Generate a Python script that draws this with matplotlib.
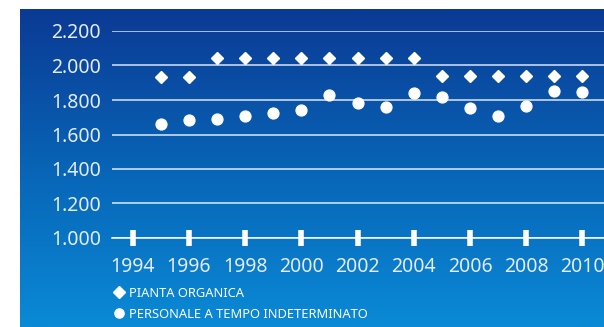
import numpy as np
import matplotlib
matplotlib.use("Agg")
import matplotlib.pyplot as plt
from matplotlib.colors import LinearSegmentedColormap
from matplotlib.ticker import FuncFormatter

plt.rcParams["font.family"] = ["Noto Sans", "DejaVu Sans"]

years = [1995, 1996, 1997, 1998, 1999, 2000, 2001, 2002,
         2003, 2004, 2005, 2006, 2007, 2008, 2009, 2010]
pianta_organica = [1933, 1933, 2045, 2045, 2045, 2045, 2045, 2045,
                   2045, 2045, 1937, 1937, 1937, 1937, 1937, 1937]
personale_ti = [1659, 1682, 1692, 1707, 1726, 1742, 1827, 1780,
                1758, 1838, 1820, 1752, 1706, 1765, 1850, 1849]
year_ticks = [1994, 1996, 1998, 2000, 2002, 2004, 2006, 2008, 2010]
y_ticks = [1000, 1200, 1400, 1600, 1800, 2000, 2200]
labels = ["PIANTA ORGANICA", "PERSONALE A TEMPO INDETERMINATO"]

W, H = 604, 327
fig = plt.figure(figsize=(W / 100, H / 100), dpi=100, facecolor="white")

# blue gradient panel
bg = fig.add_axes([20 / W, 0, 1 - 20 / W, (H - 9) / H])
bg.set_axis_off()
grad_cmap = LinearSegmentedColormap.from_list(
    "blu", ["#0b3a94", "#0864b6", "#0a8ad6"])
bg.imshow(np.linspace(0, 1, 256).reshape(-1, 1), aspect="auto",
          cmap=grad_cmap, extent=[0, 1, 0, 1], origin="upper")

# plot area
ax = fig.add_axes([112 / W, (H - 238) / H, (W - 112) / W, (238 - 31) / H])
ax.set_facecolor("none")
ax.set_xlim(1993.26, 2010.77)
ax.set_ylim(1000, 2200)

ax.set_yticks(y_ticks)
ax.yaxis.set_major_formatter(
    FuncFormatter(lambda v, p: f"{int(v):,}".replace(",", ".")))
ax.grid(axis="y", color="white", lw=1.1, alpha=0.85)
ax.set_axisbelow(True)

ax.set_xticks(year_ticks)
ax.set_xticklabels([str(y) for y in year_ticks])

for s in ["top", "right", "left"]:
    ax.spines[s].set_visible(False)
ax.spines["bottom"].set_color("white")
ax.spines["bottom"].set_linewidth(1.1)

ax.tick_params(axis="y", length=0, pad=8, labelsize=14, labelcolor="#e4ecf7")
ax.tick_params(axis="x", direction="inout", length=11, width=4, color="white",
               pad=8, labelsize=14, labelcolor="#e4ecf7")

l1, = ax.plot(years, pianta_organica, ls="none", marker="D", ms=6.6,
              color="white", mec="white", clip_on=False, label=labels[0])
l2, = ax.plot(years, personale_ti, ls="none", marker="o", ms=7.8,
              color="white", mec="white", clip_on=False, label=labels[1])

leg = fig.legend(handles=[l1, l2], loc="upper left",
                 bbox_to_anchor=(113 / W, (H - 287) / H),
                 frameon=False, fontsize=9.3, labelcolor="white",
                 handlelength=0.9, handletextpad=0.35, markerscale=0.85,
                 labelspacing=0.6, borderpad=0, borderaxespad=0)

fig.savefig("out.png", dpi=100, facecolor="white")
